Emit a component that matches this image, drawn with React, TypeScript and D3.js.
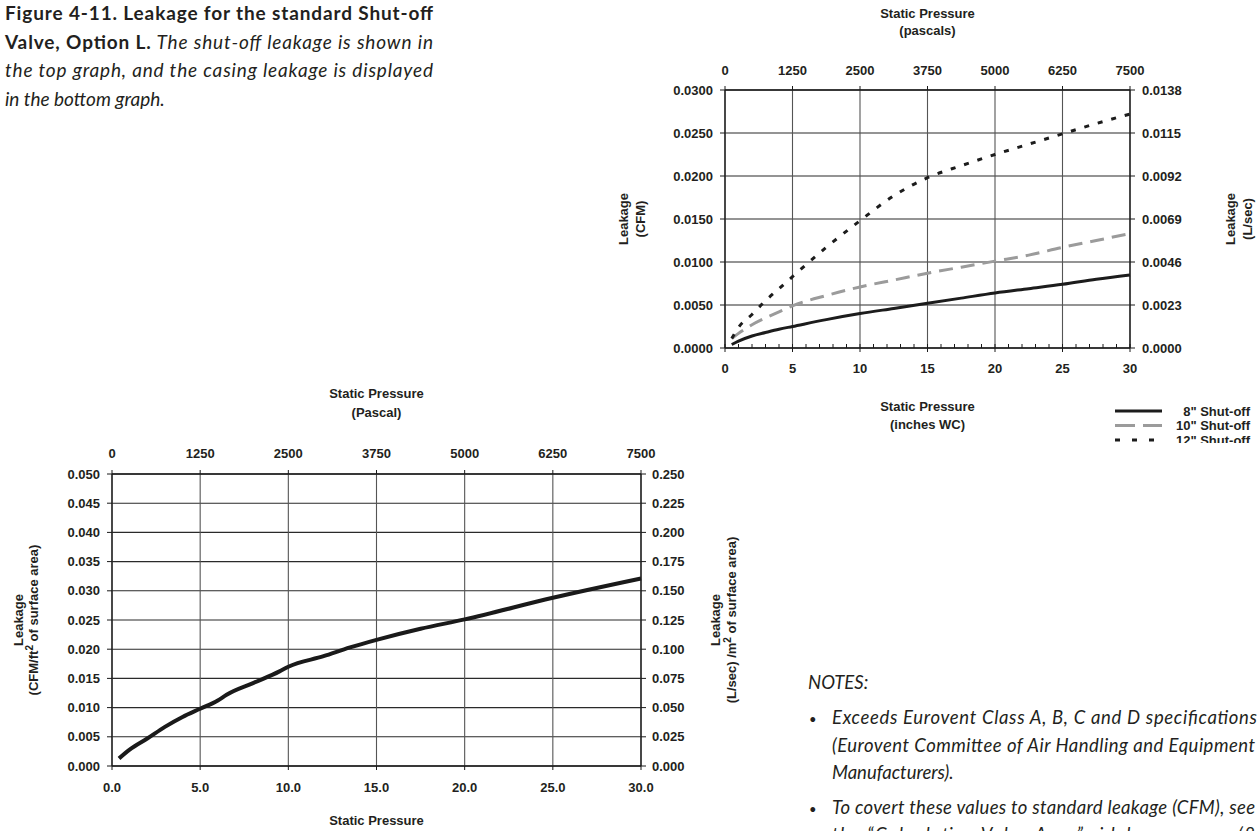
import React from "react";
import * as d3 from "d3";

// ---------- data ----------
const pressureIn = [0.5, 1, 2, 3, 4, 5, 7.5, 10, 12.5, 15, 17.5, 20, 22.5, 25, 27.5, 30];
const shutoff8 = [0.0004, 0.0008, 0.0014, 0.0018, 0.00218, 0.0025, 0.0033, 0.004, 0.0046, 0.0052, 0.0058, 0.0064, 0.0069, 0.0074, 0.008, 0.0085];
const shutoff10 = [0.0011, 0.0017, 0.0027, 0.0035, 0.0042, 0.0049, 0.0061, 0.0071, 0.0079, 0.0087, 0.0094, 0.0101, 0.0108, 0.0117, 0.0125, 0.0133];
const shutoff12 = [0.0011, 0.0024, 0.0039, 0.0055, 0.0069, 0.0083, 0.0117, 0.0148, 0.0177, 0.0198, 0.0212, 0.0225, 0.0237, 0.0249, 0.0261, 0.0272];

const casingX = [0.4, 1, 2, 3, 4, 5, 6, 6.5, 8, 9.5, 10, 12, 13.5, 15, 17.5, 20, 25, 30];
const casingLeak = [0.0013, 0.0028, 0.0047, 0.0067, 0.0084, 0.0098, 0.0112, 0.0122, 0.0142, 0.0162, 0.017, 0.0188, 0.0203, 0.0216, 0.0235, 0.0251, 0.0288, 0.0321];

const topPaTicks = ["0", "1250", "2500", "3750", "5000", "6250", "7500"];
const topInTicks = [0, 5, 10, 15, 20, 25, 30];
const topLeftTicks = [0, 0.005, 0.01, 0.015, 0.02, 0.025, 0.03];
const topRightTicks = ["0.0000", "0.0023", "0.0046", "0.0069", "0.0092", "0.0115", "0.0138"];
const minorTicks = d3.range(0, 31, 1);

const botPaTicks = ["0", "1250", "2500", "3750", "5000", "6250", "7500"];
const botXTicks = [0, 5, 10, 15, 20, 25, 30];
const botLeftTicks = d3.range(0, 11).map((i) => i * 0.005);
const botRightTicks = ["0.000", "0.025", "0.050", "0.075", "0.100", "0.125", "0.150", "0.175", "0.200", "0.225", "0.250"];

const legendItems = ['8" Shut-off', '10" Shut-off', '12" Shut-off'];

const TXT = "#231f20";
const AX = "'Liberation Sans', Arial, sans-serif";
const SERIF = "Lato, 'Open Sans', sans-serif";

export default function App() {
  // top chart scales
  const tx = d3.scaleLinear().domain([0, 30]).range([725, 1130]);
  const ty = d3.scaleLinear().domain([0, 0.03]).range([348, 90]);
  // bottom chart scales
  const bx = d3.scaleLinear().domain([0, 30]).range([112, 641]);
  const by = d3.scaleLinear().domain([0, 0.05]).range([766, 474]);

  const topLine = (vals: number[]) =>
    d3
      .line<number>()
      .x((_, i) => tx(pressureIn[i]))
      .y((d) => ty(d))
      .curve(d3.curveMonotoneX)(vals) || "";

  const casingPath =
    d3
      .line<number>()
      .x((_, i) => bx(casingX[i]))
      .y((d) => by(d))
      .curve(d3.curveMonotoneX)(casingLeak) || "";

  const series = [
    { vals: shutoff8, stroke: "#1c1c1c", dash: undefined as string | undefined, w: 3 },
    { vals: shutoff10, stroke: "#9b9b9b", dash: "14,8", w: 3 },
    { vals: shutoff12, stroke: "#1c1c1c", dash: "5,9", w: 3 },
  ];
  const legendDash = [undefined, "20,8", "5,12"];

  const [tx0, tx1] = tx.range();
  const [ty0, ty1] = ty.range();
  const [bx0, bx1] = bx.range();
  const [by0, by1] = by.range();

  return (
    <svg
      width={1259}
      height={831}
      style={{ position: "absolute", left: 0, top: 0, background: "#fff" }}
    >
      <defs>
        <clipPath id="legClip">
          <rect x={1100} y={395} width={159} height={48} />
        </clipPath>
      </defs>

      {/* ---------- caption ---------- */}
      <g fontFamily={SERIF} fontSize={19} fill={TXT}>
        <text x={5} y={20} fontWeight={700} textLength={428} lengthAdjust="spacing">
          Figure 4-11. Leakage for the standard Shut-off
        </text>
        <text x={5} y={48.5} textLength={428} lengthAdjust="spacing">
          <tspan fontWeight={700}>Valve, Option L.</tspan>
          <tspan fontStyle="italic"> The shut-off leakage is shown in</tspan>
        </text>
        <text x={5} y={77} fontStyle="italic" textLength={428} lengthAdjust="spacing">
          the top graph, and the casing leakage is displayed
        </text>
        <text x={5} y={105.5} fontStyle="italic">
          in the bottom graph.
        </text>
      </g>

      {/* ---------- top chart ---------- */}
      <g fontFamily={AX} fontWeight={700} fontSize={13} fill={TXT}>
        {topLeftTicks.map((v) => (
          <line key={"thg" + v} x1={tx0} x2={tx1} y1={ty(v)} y2={ty(v)} stroke="#2a2a2a" strokeWidth={1.1} />
        ))}
        {topInTicks.map((v) => (
          <line key={"tvg" + v} x1={tx(v)} x2={tx(v)} y1={ty0} y2={ty1} stroke="#555" strokeWidth={1.1} />
        ))}
        <line x1={tx0} x2={tx0} y1={ty0} y2={ty1} stroke="#1a1a1a" strokeWidth={1.3} />
        <line x1={tx1} x2={tx1} y1={ty0} y2={ty1} stroke="#1a1a1a" strokeWidth={1.3} />
        <line x1={tx0} x2={tx1} y1={ty0} y2={ty0} stroke="#1a1a1a" strokeWidth={1.3} />
        <line x1={tx0} x2={tx1} y1={ty1} y2={ty1} stroke="#1a1a1a" strokeWidth={1.3} />
        {topLeftTicks.map((v) => (
          <line key={"tlt" + v} x1={tx0 - 5} x2={tx0} y1={ty(v)} y2={ty(v)} stroke="#1a1a1a" />
        ))}
        {topLeftTicks.map((v) => (
          <line key={"trt" + v} x1={tx1} x2={tx1 + 5} y1={ty(v)} y2={ty(v)} stroke="#1a1a1a" />
        ))}
        {topInTicks.map((v) => (
          <line key={"ttt" + v} x1={tx(v)} x2={tx(v)} y1={ty1 - 4} y2={ty1} stroke="#1a1a1a" />
        ))}
        {topInTicks.map((v) => (
          <line key={"tbt" + v} x1={tx(v)} x2={tx(v)} y1={ty0} y2={ty0 + 4} stroke="#1a1a1a" />
        ))}
        {minorTicks.map((v) => (
          <line key={"tmt" + v} x1={tx(v)} x2={tx(v)} y1={ty0 - 4} y2={ty0} stroke="#1a1a1a" />
        ))}
        {topLeftTicks.map((v) => (
          <text key={"tll" + v} x={713} y={ty(v) + 4.6} textAnchor="end">
            {d3.format(".4f")(v)}
          </text>
        ))}
        {topRightTicks.map((s, i) => (
          <text key={"trl" + s} x={1142} y={ty(topLeftTicks[i]) + 4.6}>
            {s}
          </text>
        ))}
        {topPaTicks.map((s, i) => (
          <text key={"tpl" + s} x={tx(topInTicks[i])} y={75} textAnchor="middle">
            {s}
          </text>
        ))}
        {topInTicks.map((v) => (
          <text key={"til" + v} x={tx(v)} y={373} textAnchor="middle">
            {v}
          </text>
        ))}
        <text x={(tx0 + tx1) / 2} y={18} textAnchor="middle">Static Pressure</text>
        <text x={(tx0 + tx1) / 2} y={35} textAnchor="middle">(pascals)</text>
        <text x={(tx0 + tx1) / 2} y={411} textAnchor="middle">Static Pressure</text>
        <text x={(tx0 + tx1) / 2} y={429} textAnchor="middle">(inches WC)</text>
        <text transform={`translate(628,${(ty0 + ty1) / 2}) rotate(-90)`} textAnchor="middle">Leakage</text>
        <text transform={`translate(645,${(ty0 + ty1) / 2}) rotate(-90)`} textAnchor="middle">(CFM)</text>
        <text transform={`translate(1235,${(ty0 + ty1) / 2}) rotate(-90)`} textAnchor="middle">Leakage</text>
        <text transform={`translate(1252,${(ty0 + ty1) / 2}) rotate(-90)`} textAnchor="middle">(L/sec)</text>
        {series.map((s, i) => (
          <path
            key={"ser" + i}
            d={topLine(s.vals)}
            fill="none"
            stroke={s.stroke}
            strokeWidth={s.w}
            strokeDasharray={s.dash}
          />
        ))}
        <g clipPath="url(#legClip)">
          {legendItems.map((name, i) => (
            <g key={name}>
              <line
                x1={1115}
                x2={1162}
                y1={411 + i * 14.5}
                y2={411 + i * 14.5}
                stroke={series[i].stroke}
                strokeWidth={3}
                strokeDasharray={legendDash[i]}
              />
              <text x={1250} y={411 + i * 14.5 + 4.6} textAnchor="end">
                {name}
              </text>
            </g>
          ))}
        </g>
      </g>

      {/* ---------- bottom chart ---------- */}
      <g fontFamily={AX} fontWeight={700} fontSize={13} fill={TXT}>
        {botLeftTicks.map((v) => (
          <line key={"bhg" + v} x1={bx0} x2={bx1} y1={by(v)} y2={by(v)} stroke="#2a2a2a" strokeWidth={1.1} />
        ))}
        {botXTicks.map((v) => (
          <line key={"bvg" + v} x1={bx(v)} x2={bx(v)} y1={by0} y2={by1} stroke="#555" strokeWidth={1.1} />
        ))}
        <line x1={bx0} x2={bx0} y1={by0} y2={by1} stroke="#1a1a1a" strokeWidth={1.3} />
        <line x1={bx1} x2={bx1} y1={by0} y2={by1} stroke="#1a1a1a" strokeWidth={1.3} />
        <line x1={bx0} x2={bx1} y1={by0} y2={by0} stroke="#1a1a1a" strokeWidth={1.3} />
        <line x1={bx0} x2={bx1} y1={by1} y2={by1} stroke="#1a1a1a" strokeWidth={1.3} />
        {botLeftTicks.map((v) => (
          <line key={"blt" + v} x1={bx0 - 5} x2={bx0} y1={by(v)} y2={by(v)} stroke="#1a1a1a" />
        ))}
        {botLeftTicks.map((v) => (
          <line key={"brt" + v} x1={bx1} x2={bx1 + 5} y1={by(v)} y2={by(v)} stroke="#1a1a1a" />
        ))}
        {botXTicks.map((v) => (
          <line key={"btt" + v} x1={bx(v)} x2={bx(v)} y1={by1 - 4} y2={by1} stroke="#1a1a1a" />
        ))}
        {botXTicks.map((v) => (
          <line key={"bbt" + v} x1={bx(v)} x2={bx(v)} y1={by0} y2={by0 + 4} stroke="#1a1a1a" />
        ))}
        {botLeftTicks.map((v) => (
          <text key={"bll" + v} x={100} y={by(v) + 4.6} textAnchor="end">
            {d3.format(".3f")(v)}
          </text>
        ))}
        {botRightTicks.map((s, i) => (
          <text key={"brl" + s} x={652} y={by(botLeftTicks[i]) + 4.6}>
            {s}
          </text>
        ))}
        {botPaTicks.map((s, i) => (
          <text key={"bpl" + s} x={bx(botXTicks[i])} y={458} textAnchor="middle">
            {s}
          </text>
        ))}
        {botXTicks.map((v) => (
          <text key={"bxl" + v} x={bx(v)} y={792} textAnchor="middle">
            {d3.format(".1f")(v)}
          </text>
        ))}
        <text x={(bx0 + bx1) / 2} y={398} textAnchor="middle">Static Pressure</text>
        <text x={(bx0 + bx1) / 2} y={417} textAnchor="middle">(Pascal)</text>
        <text x={(bx0 + bx1) / 2} y={825} textAnchor="middle">Static Pressure</text>
        <text transform={`translate(23,${(by0 + by1) / 2}) rotate(-90)`} textAnchor="middle">Leakage</text>
        <text transform={`translate(38,${(by0 + by1) / 2}) rotate(-90)`} textAnchor="middle">
          <tspan>(CFM/ft</tspan>
          <tspan dy={-5} fontSize={10}>2</tspan>
          <tspan dy={5}> of surface area)</tspan>
        </text>
        <text transform={`translate(720,${(by0 + by1) / 2}) rotate(-90)`} textAnchor="middle">Leakage</text>
        <text transform={`translate(736,${(by0 + by1) / 2}) rotate(-90)`} textAnchor="middle">
          <tspan>(L/sec) /m</tspan>
          <tspan dy={-5} fontSize={10}>2</tspan>
          <tspan dy={5}> of surface area)</tspan>
        </text>
        <path d={casingPath} fill="none" stroke="#1a1a1a" strokeWidth={4} strokeLinejoin="round" />
      </g>

      {/* ---------- notes ---------- */}
      <g fontFamily={SERIF} fontSize={18.5} fill={TXT} fontStyle="italic">
        <text x={808} y={689}>NOTES:</text>
        <text x={809} y={724} fontStyle="normal" fontSize={13}>•</text>
        <text x={832} y={724} textLength={425} lengthAdjust="spacing">
          Exceeds Eurovent Class A, B, C and D specifications
        </text>
        <text x={832} y={752} textLength={423} lengthAdjust="spacing">
          (Eurovent Committee of Air Handling and Equipment
        </text>
        <text x={832} y={779}>Manufacturers).</text>
        <text x={809} y={814} fontStyle="normal" fontSize={13}>•</text>
        <text x={832} y={814} textLength={423} lengthAdjust="spacing">
          To covert these values to standard leakage (CFM), see
        </text>
        <text x={832} y={841} textLength={423} lengthAdjust="spacing">
          the “Calculating Valve Area” sidebar on page (8
        </text>
      </g>
    </svg>
  );
}
